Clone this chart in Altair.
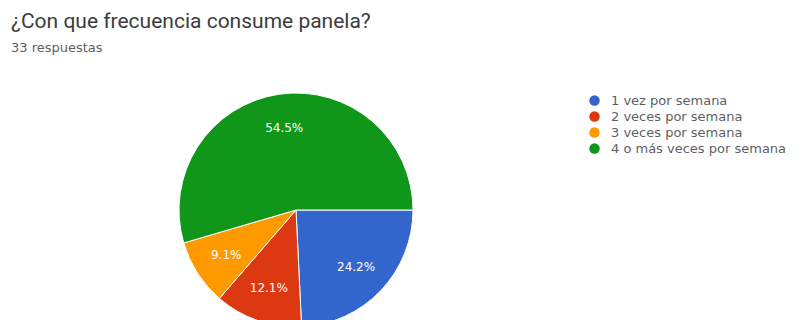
import math
import altair as alt
import pandas as pd

categories = ["1 vez por semana", "2 veces por semana", "3 veces por semana", "4 o más veces por semana"]
counts = [8, 4, 3, 18]
colors = ["#3366cc", "#dc3912", "#ff9900", "#109618"]

total = sum(counts)
df = pd.DataFrame({
    "cat": categories,
    "n": counts,
    "ord": list(range(len(categories))),
    "label": [f"{c / total * 100:.1f}%" for c in counts],
})

theta = alt.Theta("n:Q", stack=True,
                  scale=alt.Scale(range=[math.pi / 2, math.pi / 2 + 2 * math.pi]))
color = alt.Color(
    "cat:N",
    scale=alt.Scale(domain=categories, range=colors),
    legend=alt.Legend(
        title=None, orient="none", legendX=588, legendY=94,
        symbolType="circle", symbolSize=110, symbolStrokeWidth=0,
        labelFont="DejaVu Sans", labelFontSize=13, labelColor="#5f5f5f",
        rowPadding=2, labelOffset=10, labelLimit=300,
    ),
)

base = alt.Chart(df).encode(
    theta=theta,
    order=alt.Order("ord:Q"),
    x=alt.value(296), y=alt.value(210),
)

arcs = base.mark_arc(outerRadius=117, stroke="white", strokeWidth=1).encode(color=color)
labels = base.mark_text(radius=83, font="DejaVu Sans", fontSize=12, color="white").encode(text="label:N")

chart = alt.layer(arcs, labels).properties(
    width=801, height=320,
    padding=0,
    autosize=alt.AutoSizeParams(type="none"),
    title=alt.TitleParams(
        text="¿Con que frecuencia consume panela?",
        subtitle="33 respuestas",
        anchor="start", frame="group", orient="top",
        font="Roboto", fontSize=21, fontWeight="normal", color="#3c3c3c",
        subtitleFont="DejaVu Sans", subtitleFontSize=13, subtitleColor="#5f5f5f",
        subtitlePadding=10,
        offset=-55, dx=11,
    ),
).configure_view(stroke=None)

chart.save("out.html", embed_options={"renderer": "svg", "actions": False})
